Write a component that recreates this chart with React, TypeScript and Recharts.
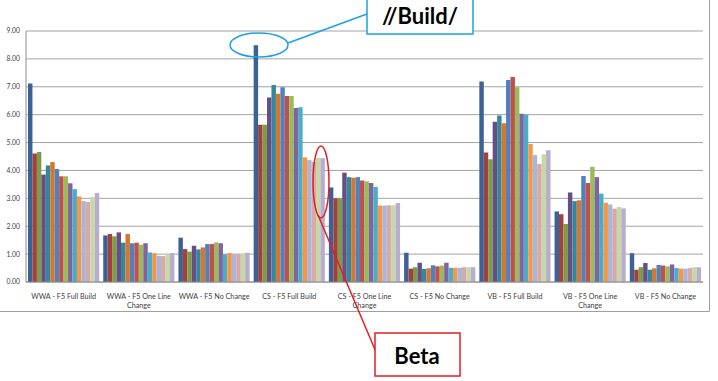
import React from "react";
import { BarChart, Bar, XAxis, YAxis, CartesianGrid, Text } from "recharts";

const categories = [
  "WWA - F5 Full Build",
  "WWA - F5 One Line Change",
  "WWA - F5 No Change",
  "CS - F5 Full Build",
  "CS - F5 One Line Change",
  "CS - F5 No Change",
  "VB - F5 Full Build",
  "VB - F5 One Line Change",
  "VB - F5 No Change",
];

// one array per category, 16 runs each
const wwaFull = [7.12, 4.61, 4.66, 3.85, 4.18, 4.3, 4.05, 3.79, 3.79, 3.54, 3.33, 3.07, 2.9, 2.87, 3.05, 3.19];
const wwaOneLine = [1.67, 1.72, 1.64, 1.78, 1.41, 1.72, 1.39, 1.41, 1.34, 1.39, 1.06, 1.03, 0.94, 0.93, 0.99, 1.04];
const wwaNoChange = [1.59, 1.18, 1.09, 1.3, 1.17, 1.24, 1.36, 1.36, 1.42, 1.39, 0.99, 1.04, 0.99, 1.0, 1.02, 1.05];
const csFull = [8.49, 5.64, 5.64, 6.62, 7.06, 6.75, 6.98, 6.67, 6.67, 6.24, 6.27, 4.47, 4.37, 4.31, 4.45, 4.44];
const csOneLine = [3.39, 3.0, 3.0, 3.92, 3.76, 3.74, 3.76, 3.64, 3.61, 3.55, 3.41, 2.74, 2.74, 2.75, 2.75, 2.83];
const csNoChange = [1.05, 0.48, 0.53, 0.69, 0.47, 0.49, 0.6, 0.56, 0.59, 0.69, 0.51, 0.51, 0.51, 0.53, 0.53, 0.53];
const vbFull = [7.19, 4.64, 4.4, 5.75, 5.97, 5.69, 7.24, 7.35, 6.98, 6.03, 6.0, 4.95, 4.55, 4.23, 4.58, 4.72];
const vbOneLine = [2.53, 2.43, 2.08, 3.21, 2.9, 2.93, 3.8, 3.55, 4.13, 3.76, 3.17, 2.84, 2.78, 2.63, 2.69, 2.64];
const vbNoChange = [1.03, 0.44, 0.53, 0.68, 0.44, 0.49, 0.61, 0.59, 0.56, 0.63, 0.5, 0.48, 0.48, 0.5, 0.53, 0.53];

const groups = [wwaFull, wwaOneLine, wwaNoChange, csFull, csOneLine, csNoChange, vbFull, vbOneLine, vbNoChange];

const yTicks = [0, 1, 2, 3, 4, 5, 6, 7, 8, 9];

const colors = [
  "#3b6195", "#a2403d", "#7e9c48", "#654f84", "#33889f", "#d5772f",
  "#4f81bd", "#c0504d", "#9bbb59", "#8064a2", "#4bacc6", "#f79646",
  "#a6b7d9", "#d9a8a7", "#c6d8a8", "#b8adcc",
];

const data = categories.map((name, i) => {
  const row: Record<string, string | number> = { name };
  groups[i].forEach((v, j) => {
    row["s" + j] = v;
  });
  return row;
});

const labelFont = { fontSize: "7.2px", fontFamily: "Lato, sans-serif" };

const CatTick = (props: any) => {
  const { x, y, payload } = props;
  return (
    <Text
      x={x}
      y={y}
      width={72}
      textAnchor="middle"
      verticalAnchor="start"
      lineHeight="1.3em"
      style={labelFont}
      fontSize={7.2}
      fontFamily="Lato, sans-serif"
      fill="#404040"
    >
      {payload.value}
    </Text>
  );
};

export default function App() {
  return (
    <div
      style={{
        position: "absolute",
        left: 0,
        top: 0,
        width: 718,
        height: 381,
        background: "#fff",
        overflow: "hidden",
      }}
    >
      <BarChart
        width={718}
        height={381}
        data={data}
        margin={{ top: 31, right: 15, left: 8, bottom: 59 }}
        barGap={0}
        barSize={4.45}
      >
        <CartesianGrid vertical={false} stroke="#8c8c8c" strokeWidth={0.8} />
        <XAxis
          dataKey="name"
          height={40}
          interval={0}
          tick={<CatTick />}
          tickLine={false}
          tickMargin={6}
          stroke="#8c8c8c"
        />
        <YAxis
          width={18}
          domain={[0, 9]}
          ticks={yTicks}
          tickFormatter={(v: number) => v.toFixed(2)}
          tickLine={false}
          tickSize={0}
          tickMargin={6}
          stroke="#8c8c8c"
          tick={{ fontSize: 6.8, fill: "#404040", fontFamily: "Lato, sans-serif" }}
        />
        {colors.map((c, j) => (
          <Bar key={j} dataKey={"s" + j} fill={c} isAnimationActive={false} />
        ))}
      </BarChart>
      <svg
        width={718}
        height={381}
        style={{ position: "absolute", left: 0, top: 0, pointerEvents: "none" }}
      >
        <path d="M0 311.5 H709.5 V0" fill="none" stroke="#a0a0a0" strokeWidth={1} />
        <ellipse cx={259} cy={45} rx={29} ry={12} fill="none" stroke="#1ba1e2" strokeWidth={1.5} />
        <line x1={288} y1={43} x2={367} y2={14} stroke="#1ba1e2" strokeWidth={1.5} />
        <rect x={367} y={-2} width={106} height={36} fill="#fff" stroke="#1ba1e2" strokeWidth={1.5} />
        <text x={420} y={24} textAnchor="middle" fontSize={22} fontWeight="bold" fontFamily="Lato, sans-serif" fill="#000">
          //Build/
        </text>
        <ellipse cx={321} cy={182} rx={8} ry={36} fill="none" stroke="#e31e24" strokeWidth={1.5} />
        <line x1={318} y1={215} x2={376} y2={352} stroke="#e31e24" strokeWidth={1.5} />
        <rect x={375} y={333} width={85} height={43} fill="#fff" stroke="#e31e24" strokeWidth={1.5} />
        <text x={417} y={364} textAnchor="middle" fontSize={22} fontWeight="bold" fontFamily="Lato, sans-serif" fill="#000">
          Beta
        </text>
      </svg>
    </div>
  );
}
